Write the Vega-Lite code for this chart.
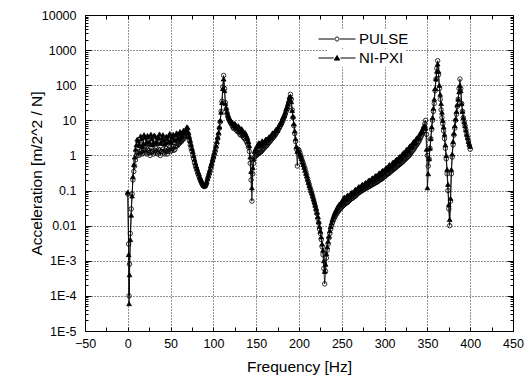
{
  "$schema": "https://vega.github.io/schema/vega-lite/v6.json",
  "width": 428,
  "height": 316,
  "autosize": {"type": "none"},
  "padding": {"left": 85, "top": 15, "right": 16, "bottom": 45},
  "config": {
    "view": {"stroke": "black", "strokeWidth": 1},
    "font": "Liberation Sans",
    "axis": {"labelFont": "Liberation Sans", "titleFont": "Liberation Sans", "labelColor": "black", "titleColor": "black", "titleFontWeight": "normal", "tickColor": "black", "domain": false, "labelFlush": false, "labelOverlap": false},
    "legend": {"labelFont": "Liberation Sans", "labelFontSize": 15, "labelColor": "black", "symbolStrokeColor": "black", "symbolStrokeWidth": 1}
  },
  "data": {"values": [
    {"f": 0, "PULSE": 0.08, "NI-PXI": 0.09},
    {"f": 1, "PULSE": 0.003, "NI-PXI": 0.0015},
    {"f": 1.5, "PULSE": 0.0001, "NI-PXI": 0.00006},
    {"f": 2, "PULSE": 0.0008, "NI-PXI": 0.0004},
    {"f": 3, "PULSE": 0.006, "NI-PXI": 0.004},
    {"f": 4, "PULSE": 0.03, "NI-PXI": 0.02},
    {"f": 5, "PULSE": 0.08, "NI-PXI": 0.07},
    {"f": 6, "PULSE": 0.2, "NI-PXI": 0.25},
    {"f": 7, "PULSE": 0.35, "NI-PXI": 0.55},
    {"f": 8, "PULSE": 0.5, "NI-PXI": 0.9},
    {"f": 9, "PULSE": 0.75, "NI-PXI": 1.5},
    {"f": 10, "PULSE": 1.0, "NI-PXI": 2.0},
    {"f": 11, "PULSE": 1.2, "NI-PXI": 2.9},
    {"f": 12, "PULSE": 1.3, "NI-PXI": 2.6},
    {"f": 13, "PULSE": 1.0, "NI-PXI": 2.0},
    {"f": 14, "PULSE": 1.1, "NI-PXI": 1.9},
    {"f": 15, "PULSE": 1.3, "NI-PXI": 3.6},
    {"f": 16, "PULSE": 1.4, "NI-PXI": 3.0},
    {"f": 17, "PULSE": 1.1, "NI-PXI": 1.8},
    {"f": 18, "PULSE": 1.2, "NI-PXI": 2.2},
    {"f": 19, "PULSE": 1.4, "NI-PXI": 3.9},
    {"f": 20, "PULSE": 1.5, "NI-PXI": 3.3},
    {"f": 21, "PULSE": 1.2, "NI-PXI": 2.1},
    {"f": 22, "PULSE": 1.1, "NI-PXI": 2.5},
    {"f": 23, "PULSE": 1.5, "NI-PXI": 3.7},
    {"f": 24, "PULSE": 1.4, "NI-PXI": 3.4},
    {"f": 25, "PULSE": 1.2, "NI-PXI": 2.4},
    {"f": 26, "PULSE": 1.0, "NI-PXI": 2.1},
    {"f": 27, "PULSE": 1.6, "NI-PXI": 4.0},
    {"f": 28, "PULSE": 1.3, "NI-PXI": 3.0},
    {"f": 29, "PULSE": 1.3, "NI-PXI": 2.0},
    {"f": 30, "PULSE": 1.1, "NI-PXI": 2.4},
    {"f": 31, "PULSE": 1.2, "NI-PXI": 3.8},
    {"f": 32, "PULSE": 1.4, "NI-PXI": 3.5},
    {"f": 33, "PULSE": 1.6, "NI-PXI": 2.2},
    {"f": 34, "PULSE": 1.2, "NI-PXI": 2.5},
    {"f": 35, "PULSE": 1.1, "NI-PXI": 3.3},
    {"f": 36, "PULSE": 1.5, "NI-PXI": 3.1},
    {"f": 37, "PULSE": 1.4, "NI-PXI": 4.1},
    {"f": 38, "PULSE": 1.0, "NI-PXI": 2.2},
    {"f": 39, "PULSE": 1.3, "NI-PXI": 2.3},
    {"f": 40, "PULSE": 1.3, "NI-PXI": 3.2},
    {"f": 41, "PULSE": 1.5, "NI-PXI": 3.9},
    {"f": 42, "PULSE": 1.2, "NI-PXI": 2.7},
    {"f": 43, "PULSE": 1.1, "NI-PXI": 2.1},
    {"f": 44, "PULSE": 1.4, "NI-PXI": 2.3},
    {"f": 45, "PULSE": 1.6, "NI-PXI": 3.5},
    {"f": 46, "PULSE": 1.1, "NI-PXI": 3.0},
    {"f": 47, "PULSE": 1.3, "NI-PXI": 2.4},
    {"f": 48, "PULSE": 1.5, "NI-PXI": 3.6},
    {"f": 49, "PULSE": 1.7, "NI-PXI": 4.2},
    {"f": 50, "PULSE": 1.3, "NI-PXI": 2.6},
    {"f": 51, "PULSE": 1.4, "NI-PXI": 2.3},
    {"f": 52, "PULSE": 1.6, "NI-PXI": 3.3},
    {"f": 53, "PULSE": 1.8, "NI-PXI": 4.0},
    {"f": 54, "PULSE": 1.4, "NI-PXI": 2.8},
    {"f": 55, "PULSE": 1.5, "NI-PXI": 2.7},
    {"f": 56, "PULSE": 1.8, "NI-PXI": 3.8},
    {"f": 57, "PULSE": 2.0, "NI-PXI": 4.4},
    {"f": 58, "PULSE": 1.9, "NI-PXI": 3.0},
    {"f": 59, "PULSE": 2.1, "NI-PXI": 3.0},
    {"f": 60, "PULSE": 2.2, "NI-PXI": 4.2},
    {"f": 61, "PULSE": 2.5, "NI-PXI": 4.8},
    {"f": 62, "PULSE": 2.4, "NI-PXI": 3.6},
    {"f": 63, "PULSE": 2.6, "NI-PXI": 3.5},
    {"f": 64, "PULSE": 2.8, "NI-PXI": 4.6},
    {"f": 65, "PULSE": 3.0, "NI-PXI": 5.2},
    {"f": 66, "PULSE": 3.1, "NI-PXI": 4.3},
    {"f": 67, "PULSE": 3.4, "NI-PXI": 4.6},
    {"f": 68, "PULSE": 3.6, "NI-PXI": 5.5},
    {"f": 69, "PULSE": 4.0, "NI-PXI": 6.5},
    {"f": 70, "PULSE": 4.2, "NI-PXI": 6.2},
    {"f": 71, "PULSE": 3.4, "NI-PXI": 4.5},
    {"f": 72, "PULSE": 2.6, "NI-PXI": 3.4},
    {"f": 73, "PULSE": 2.0, "NI-PXI": 2.7},
    {"f": 74, "PULSE": 1.6, "NI-PXI": 2.1},
    {"f": 75, "PULSE": 1.3, "NI-PXI": 1.6},
    {"f": 76, "PULSE": 1.0, "NI-PXI": 1.3},
    {"f": 77, "PULSE": 0.8, "NI-PXI": 1.0},
    {"f": 78, "PULSE": 0.62, "NI-PXI": 0.78},
    {"f": 79, "PULSE": 0.5, "NI-PXI": 0.62},
    {"f": 80, "PULSE": 0.42, "NI-PXI": 0.5},
    {"f": 81, "PULSE": 0.36, "NI-PXI": 0.42},
    {"f": 82, "PULSE": 0.3, "NI-PXI": 0.35},
    {"f": 83, "PULSE": 0.26, "NI-PXI": 0.3},
    {"f": 84, "PULSE": 0.22, "NI-PXI": 0.25},
    {"f": 85, "PULSE": 0.19, "NI-PXI": 0.22},
    {"f": 86, "PULSE": 0.17, "NI-PXI": 0.19},
    {"f": 87, "PULSE": 0.15, "NI-PXI": 0.17},
    {"f": 88, "PULSE": 0.14, "NI-PXI": 0.15},
    {"f": 89, "PULSE": 0.13, "NI-PXI": 0.14},
    {"f": 90, "PULSE": 0.13, "NI-PXI": 0.14},
    {"f": 91, "PULSE": 0.14, "NI-PXI": 0.16},
    {"f": 92, "PULSE": 0.16, "NI-PXI": 0.18},
    {"f": 93, "PULSE": 0.2, "NI-PXI": 0.22},
    {"f": 94, "PULSE": 0.24, "NI-PXI": 0.27},
    {"f": 95, "PULSE": 0.29, "NI-PXI": 0.33},
    {"f": 96, "PULSE": 0.35, "NI-PXI": 0.4},
    {"f": 97, "PULSE": 0.45, "NI-PXI": 0.5},
    {"f": 98, "PULSE": 0.55, "NI-PXI": 0.6},
    {"f": 99, "PULSE": 0.7, "NI-PXI": 0.75},
    {"f": 100, "PULSE": 0.85, "NI-PXI": 0.95},
    {"f": 101, "PULSE": 1.05, "NI-PXI": 1.2},
    {"f": 102, "PULSE": 1.3, "NI-PXI": 1.5},
    {"f": 103, "PULSE": 1.7, "NI-PXI": 1.9},
    {"f": 104, "PULSE": 2.2, "NI-PXI": 2.5},
    {"f": 105, "PULSE": 3.0, "NI-PXI": 3.3},
    {"f": 106, "PULSE": 4.0, "NI-PXI": 4.5},
    {"f": 107, "PULSE": 6, "NI-PXI": 6.5},
    {"f": 108, "PULSE": 9, "NI-PXI": 10},
    {"f": 109, "PULSE": 18, "NI-PXI": 17},
    {"f": 110, "PULSE": 35, "NI-PXI": 32},
    {"f": 111, "PULSE": 90, "NI-PXI": 80},
    {"f": 112, "PULSE": 190, "NI-PXI": 150},
    {"f": 113, "PULSE": 80, "NI-PXI": 70},
    {"f": 114, "PULSE": 32, "NI-PXI": 30},
    {"f": 115, "PULSE": 21, "NI-PXI": 22},
    {"f": 116, "PULSE": 16, "NI-PXI": 17},
    {"f": 117, "PULSE": 13, "NI-PXI": 14},
    {"f": 118, "PULSE": 11, "NI-PXI": 12},
    {"f": 119, "PULSE": 9.5, "NI-PXI": 11},
    {"f": 120, "PULSE": 8.5, "NI-PXI": 10},
    {"f": 121, "PULSE": 8, "NI-PXI": 9.5},
    {"f": 122, "PULSE": 7, "NI-PXI": 8.5},
    {"f": 123, "PULSE": 6.2, "NI-PXI": 8},
    {"f": 124, "PULSE": 5.8, "NI-PXI": 7},
    {"f": 125, "PULSE": 6.5, "NI-PXI": 8.2},
    {"f": 126, "PULSE": 6, "NI-PXI": 7.5},
    {"f": 127, "PULSE": 5.2, "NI-PXI": 6.5},
    {"f": 128, "PULSE": 4.8, "NI-PXI": 6},
    {"f": 129, "PULSE": 5.0, "NI-PXI": 7},
    {"f": 130, "PULSE": 4.6, "NI-PXI": 6.4},
    {"f": 131, "PULSE": 4.0, "NI-PXI": 5.5},
    {"f": 132, "PULSE": 3.8, "NI-PXI": 4.8},
    {"f": 133, "PULSE": 4.2, "NI-PXI": 5.8},
    {"f": 134, "PULSE": 3.7, "NI-PXI": 5.2},
    {"f": 135, "PULSE": 3.3, "NI-PXI": 4.6},
    {"f": 136, "PULSE": 3.1, "NI-PXI": 4.2},
    {"f": 137, "PULSE": 3.0, "NI-PXI": 4.5},
    {"f": 138, "PULSE": 2.7, "NI-PXI": 4.0},
    {"f": 139, "PULSE": 2.4, "NI-PXI": 3.5},
    {"f": 140, "PULSE": 2.1, "NI-PXI": 3.1},
    {"f": 141, "PULSE": 1.7, "NI-PXI": 2.5},
    {"f": 142, "PULSE": 1.3, "NI-PXI": 1.9},
    {"f": 143, "PULSE": 0.6, "NI-PXI": 0.9},
    {"f": 144, "PULSE": 0.2, "NI-PXI": 0.35},
    {"f": 145, "PULSE": 0.05, "NI-PXI": 0.12},
    {"f": 146, "PULSE": 0.3, "NI-PXI": 0.45},
    {"f": 147, "PULSE": 0.6, "NI-PXI": 0.8},
    {"f": 148, "PULSE": 0.9, "NI-PXI": 1.3},
    {"f": 149, "PULSE": 0.95, "NI-PXI": 1.5},
    {"f": 150, "PULSE": 1.0, "NI-PXI": 1.6},
    {"f": 151, "PULSE": 1.05, "NI-PXI": 1.9},
    {"f": 152, "PULSE": 1.1, "NI-PXI": 1.8},
    {"f": 153, "PULSE": 1.15, "NI-PXI": 2.3},
    {"f": 154, "PULSE": 1.2, "NI-PXI": 2.2},
    {"f": 155, "PULSE": 1.25, "NI-PXI": 1.9},
    {"f": 156, "PULSE": 1.3, "NI-PXI": 2.0},
    {"f": 157, "PULSE": 1.4, "NI-PXI": 2.6},
    {"f": 158, "PULSE": 1.5, "NI-PXI": 2.4},
    {"f": 159, "PULSE": 1.6, "NI-PXI": 2.3},
    {"f": 160, "PULSE": 1.7, "NI-PXI": 2.5},
    {"f": 161, "PULSE": 1.8, "NI-PXI": 2.9},
    {"f": 162, "PULSE": 1.9, "NI-PXI": 2.9},
    {"f": 163, "PULSE": 2.0, "NI-PXI": 2.7},
    {"f": 164, "PULSE": 2.2, "NI-PXI": 3.0},
    {"f": 165, "PULSE": 2.35, "NI-PXI": 3.4},
    {"f": 166, "PULSE": 2.5, "NI-PXI": 3.4},
    {"f": 167, "PULSE": 2.7, "NI-PXI": 3.2},
    {"f": 168, "PULSE": 2.9, "NI-PXI": 3.8},
    {"f": 169, "PULSE": 3.1, "NI-PXI": 4.4},
    {"f": 170, "PULSE": 3.3, "NI-PXI": 4.3},
    {"f": 171, "PULSE": 3.5, "NI-PXI": 4.0},
    {"f": 172, "PULSE": 3.8, "NI-PXI": 4.8},
    {"f": 173, "PULSE": 4.1, "NI-PXI": 5.5},
    {"f": 174, "PULSE": 4.5, "NI-PXI": 5.6},
    {"f": 175, "PULSE": 5.0, "NI-PXI": 5.2},
    {"f": 176, "PULSE": 5.5, "NI-PXI": 6.5},
    {"f": 177, "PULSE": 6.1, "NI-PXI": 7.6},
    {"f": 178, "PULSE": 6.8, "NI-PXI": 8.0},
    {"f": 179, "PULSE": 7.6, "NI-PXI": 8.5},
    {"f": 180, "PULSE": 8.5, "NI-PXI": 10},
    {"f": 181, "PULSE": 9.6, "NI-PXI": 12},
    {"f": 182, "PULSE": 11, "NI-PXI": 13},
    {"f": 183, "PULSE": 13, "NI-PXI": 14},
    {"f": 184, "PULSE": 15, "NI-PXI": 17},
    {"f": 185, "PULSE": 18, "NI-PXI": 21},
    {"f": 186, "PULSE": 21, "NI-PXI": 24},
    {"f": 187, "PULSE": 26, "NI-PXI": 29},
    {"f": 188, "PULSE": 32, "NI-PXI": 36},
    {"f": 189, "PULSE": 42, "NI-PXI": 45},
    {"f": 190, "PULSE": 55, "NI-PXI": 48},
    {"f": 191, "PULSE": 40, "NI-PXI": 34},
    {"f": 192, "PULSE": 20, "NI-PXI": 19},
    {"f": 193, "PULSE": 12, "NI-PXI": 13},
    {"f": 194, "PULSE": 7, "NI-PXI": 8},
    {"f": 195, "PULSE": 4.2, "NI-PXI": 5},
    {"f": 196, "PULSE": 2.5, "NI-PXI": 3},
    {"f": 197, "PULSE": 1.5, "NI-PXI": 1.8},
    {"f": 198, "PULSE": 0.5, "NI-PXI": 1.3},
    {"f": 199, "PULSE": 1.5, "NI-PXI": 1.4},
    {"f": 200, "PULSE": 1.4, "NI-PXI": 1.3},
    {"f": 201, "PULSE": 1.2, "NI-PXI": 1.1},
    {"f": 202, "PULSE": 1.0, "NI-PXI": 0.95},
    {"f": 203, "PULSE": 0.85, "NI-PXI": 0.8},
    {"f": 204, "PULSE": 0.7, "NI-PXI": 0.65},
    {"f": 205, "PULSE": 0.6, "NI-PXI": 0.55},
    {"f": 206, "PULSE": 0.5, "NI-PXI": 0.46},
    {"f": 207, "PULSE": 0.42, "NI-PXI": 0.38},
    {"f": 208, "PULSE": 0.34, "NI-PXI": 0.31},
    {"f": 209, "PULSE": 0.28, "NI-PXI": 0.26},
    {"f": 210, "PULSE": 0.22, "NI-PXI": 0.21},
    {"f": 211, "PULSE": 0.18, "NI-PXI": 0.17},
    {"f": 212, "PULSE": 0.15, "NI-PXI": 0.14},
    {"f": 213, "PULSE": 0.12, "NI-PXI": 0.12},
    {"f": 214, "PULSE": 0.1, "NI-PXI": 0.1},
    {"f": 215, "PULSE": 0.082, "NI-PXI": 0.085},
    {"f": 216, "PULSE": 0.068, "NI-PXI": 0.07},
    {"f": 217, "PULSE": 0.055, "NI-PXI": 0.058},
    {"f": 218, "PULSE": 0.045, "NI-PXI": 0.047},
    {"f": 219, "PULSE": 0.036, "NI-PXI": 0.038},
    {"f": 220, "PULSE": 0.028, "NI-PXI": 0.031},
    {"f": 221, "PULSE": 0.022, "NI-PXI": 0.024},
    {"f": 222, "PULSE": 0.016, "NI-PXI": 0.018},
    {"f": 223, "PULSE": 0.012, "NI-PXI": 0.013},
    {"f": 224, "PULSE": 0.008, "NI-PXI": 0.0095},
    {"f": 225, "PULSE": 0.006, "NI-PXI": 0.007},
    {"f": 226, "PULSE": 0.004, "NI-PXI": 0.0048},
    {"f": 227, "PULSE": 0.0025, "NI-PXI": 0.003},
    {"f": 228, "PULSE": 0.0015, "NI-PXI": 0.002},
    {"f": 229, "PULSE": 0.0006, "NI-PXI": 0.001},
    {"f": 230, "PULSE": 0.00022, "NI-PXI": 0.0005},
    {"f": 231, "PULSE": 0.0005, "NI-PXI": 0.0008},
    {"f": 232, "PULSE": 0.0012, "NI-PXI": 0.0016},
    {"f": 233, "PULSE": 0.002, "NI-PXI": 0.0025},
    {"f": 234, "PULSE": 0.003, "NI-PXI": 0.0036},
    {"f": 235, "PULSE": 0.0045, "NI-PXI": 0.005},
    {"f": 236, "PULSE": 0.006, "NI-PXI": 0.0072},
    {"f": 237, "PULSE": 0.008, "NI-PXI": 0.0095},
    {"f": 238, "PULSE": 0.01, "NI-PXI": 0.012},
    {"f": 239, "PULSE": 0.012, "NI-PXI": 0.015},
    {"f": 240, "PULSE": 0.014, "NI-PXI": 0.018},
    {"f": 241, "PULSE": 0.016, "NI-PXI": 0.021},
    {"f": 242, "PULSE": 0.018, "NI-PXI": 0.024},
    {"f": 243, "PULSE": 0.02, "NI-PXI": 0.027},
    {"f": 244, "PULSE": 0.022, "NI-PXI": 0.03},
    {"f": 245, "PULSE": 0.024, "NI-PXI": 0.034},
    {"f": 246, "PULSE": 0.026, "NI-PXI": 0.036},
    {"f": 247, "PULSE": 0.028, "NI-PXI": 0.041},
    {"f": 248, "PULSE": 0.03, "NI-PXI": 0.04},
    {"f": 249, "PULSE": 0.032, "NI-PXI": 0.044},
    {"f": 250, "PULSE": 0.034, "NI-PXI": 0.05},
    {"f": 251, "PULSE": 0.036, "NI-PXI": 0.048},
    {"f": 252, "PULSE": 0.038, "NI-PXI": 0.06},
    {"f": 253, "PULSE": 0.04, "NI-PXI": 0.065},
    {"f": 254, "PULSE": 0.042, "NI-PXI": 0.055},
    {"f": 255, "PULSE": 0.044, "NI-PXI": 0.06},
    {"f": 256, "PULSE": 0.045, "NI-PXI": 0.07},
    {"f": 257, "PULSE": 0.047, "NI-PXI": 0.075},
    {"f": 258, "PULSE": 0.05, "NI-PXI": 0.065},
    {"f": 259, "PULSE": 0.053, "NI-PXI": 0.068},
    {"f": 260, "PULSE": 0.056, "NI-PXI": 0.08},
    {"f": 261, "PULSE": 0.058, "NI-PXI": 0.086},
    {"f": 262, "PULSE": 0.06, "NI-PXI": 0.09},
    {"f": 263, "PULSE": 0.062, "NI-PXI": 0.08},
    {"f": 264, "PULSE": 0.066, "NI-PXI": 0.085},
    {"f": 265, "PULSE": 0.068, "NI-PXI": 0.1},
    {"f": 266, "PULSE": 0.07, "NI-PXI": 0.11},
    {"f": 267, "PULSE": 0.075, "NI-PXI": 0.095},
    {"f": 268, "PULSE": 0.08, "NI-PXI": 0.1},
    {"f": 269, "PULSE": 0.084, "NI-PXI": 0.12},
    {"f": 270, "PULSE": 0.088, "NI-PXI": 0.13},
    {"f": 271, "PULSE": 0.09, "NI-PXI": 0.115},
    {"f": 272, "PULSE": 0.095, "NI-PXI": 0.12},
    {"f": 273, "PULSE": 0.098, "NI-PXI": 0.14},
    {"f": 274, "PULSE": 0.1, "NI-PXI": 0.15},
    {"f": 275, "PULSE": 0.105, "NI-PXI": 0.13},
    {"f": 276, "PULSE": 0.11, "NI-PXI": 0.14},
    {"f": 277, "PULSE": 0.112, "NI-PXI": 0.16},
    {"f": 278, "PULSE": 0.115, "NI-PXI": 0.17},
    {"f": 279, "PULSE": 0.12, "NI-PXI": 0.15},
    {"f": 280, "PULSE": 0.125, "NI-PXI": 0.16},
    {"f": 281, "PULSE": 0.128, "NI-PXI": 0.19},
    {"f": 282, "PULSE": 0.13, "NI-PXI": 0.2},
    {"f": 283, "PULSE": 0.135, "NI-PXI": 0.18},
    {"f": 284, "PULSE": 0.14, "NI-PXI": 0.19},
    {"f": 285, "PULSE": 0.145, "NI-PXI": 0.22},
    {"f": 286, "PULSE": 0.15, "NI-PXI": 0.23},
    {"f": 287, "PULSE": 0.155, "NI-PXI": 0.21},
    {"f": 288, "PULSE": 0.16, "NI-PXI": 0.22},
    {"f": 289, "PULSE": 0.165, "NI-PXI": 0.26},
    {"f": 290, "PULSE": 0.17, "NI-PXI": 0.27},
    {"f": 291, "PULSE": 0.175, "NI-PXI": 0.24},
    {"f": 292, "PULSE": 0.18, "NI-PXI": 0.25},
    {"f": 293, "PULSE": 0.19, "NI-PXI": 0.3},
    {"f": 294, "PULSE": 0.2, "NI-PXI": 0.32},
    {"f": 295, "PULSE": 0.205, "NI-PXI": 0.28},
    {"f": 296, "PULSE": 0.21, "NI-PXI": 0.3},
    {"f": 297, "PULSE": 0.22, "NI-PXI": 0.36},
    {"f": 298, "PULSE": 0.23, "NI-PXI": 0.38},
    {"f": 299, "PULSE": 0.24, "NI-PXI": 0.34},
    {"f": 300, "PULSE": 0.25, "NI-PXI": 0.36},
    {"f": 301, "PULSE": 0.26, "NI-PXI": 0.42},
    {"f": 302, "PULSE": 0.28, "NI-PXI": 0.45},
    {"f": 303, "PULSE": 0.29, "NI-PXI": 0.4},
    {"f": 304, "PULSE": 0.3, "NI-PXI": 0.43},
    {"f": 305, "PULSE": 0.31, "NI-PXI": 0.52},
    {"f": 306, "PULSE": 0.33, "NI-PXI": 0.55},
    {"f": 307, "PULSE": 0.345, "NI-PXI": 0.48},
    {"f": 308, "PULSE": 0.36, "NI-PXI": 0.5},
    {"f": 309, "PULSE": 0.38, "NI-PXI": 0.6},
    {"f": 310, "PULSE": 0.4, "NI-PXI": 0.65},
    {"f": 311, "PULSE": 0.41, "NI-PXI": 0.58},
    {"f": 312, "PULSE": 0.43, "NI-PXI": 0.62},
    {"f": 313, "PULSE": 0.45, "NI-PXI": 0.74},
    {"f": 314, "PULSE": 0.48, "NI-PXI": 0.78},
    {"f": 315, "PULSE": 0.5, "NI-PXI": 0.7},
    {"f": 316, "PULSE": 0.52, "NI-PXI": 0.75},
    {"f": 317, "PULSE": 0.55, "NI-PXI": 0.9},
    {"f": 318, "PULSE": 0.57, "NI-PXI": 0.95},
    {"f": 319, "PULSE": 0.6, "NI-PXI": 0.85},
    {"f": 320, "PULSE": 0.63, "NI-PXI": 0.9},
    {"f": 321, "PULSE": 0.66, "NI-PXI": 1.1},
    {"f": 322, "PULSE": 0.7, "NI-PXI": 1.2},
    {"f": 323, "PULSE": 0.74, "NI-PXI": 1.05},
    {"f": 324, "PULSE": 0.78, "NI-PXI": 1.1},
    {"f": 325, "PULSE": 0.82, "NI-PXI": 1.4},
    {"f": 326, "PULSE": 0.87, "NI-PXI": 1.5},
    {"f": 327, "PULSE": 0.92, "NI-PXI": 1.3},
    {"f": 328, "PULSE": 0.97, "NI-PXI": 1.4},
    {"f": 329, "PULSE": 1.03, "NI-PXI": 1.8},
    {"f": 330, "PULSE": 1.1, "NI-PXI": 1.9},
    {"f": 331, "PULSE": 1.2, "NI-PXI": 1.7},
    {"f": 332, "PULSE": 1.3, "NI-PXI": 1.8},
    {"f": 333, "PULSE": 1.4, "NI-PXI": 2.3},
    {"f": 334, "PULSE": 1.5, "NI-PXI": 2.5},
    {"f": 335, "PULSE": 1.65, "NI-PXI": 2.2},
    {"f": 336, "PULSE": 1.8, "NI-PXI": 2.4},
    {"f": 337, "PULSE": 1.95, "NI-PXI": 3.0},
    {"f": 338, "PULSE": 2.1, "NI-PXI": 3.2},
    {"f": 339, "PULSE": 2.3, "NI-PXI": 3.1},
    {"f": 340, "PULSE": 2.5, "NI-PXI": 3.3},
    {"f": 341, "PULSE": 2.8, "NI-PXI": 4.0},
    {"f": 342, "PULSE": 3.2, "NI-PXI": 4.5},
    {"f": 343, "PULSE": 3.6, "NI-PXI": 4.6},
    {"f": 344, "PULSE": 4.2, "NI-PXI": 5},
    {"f": 345, "PULSE": 5, "NI-PXI": 6.2},
    {"f": 346, "PULSE": 6, "NI-PXI": 7},
    {"f": 347, "PULSE": 8, "NI-PXI": 7},
    {"f": 348, "PULSE": 10, "NI-PXI": 6},
    {"f": 349, "PULSE": 4, "NI-PXI": 1.5},
    {"f": 350, "PULSE": 1.0, "NI-PXI": 0.12},
    {"f": 351, "PULSE": 0.5, "NI-PXI": 0.3},
    {"f": 352, "PULSE": 0.8, "NI-PXI": 0.8},
    {"f": 353, "PULSE": 1.6, "NI-PXI": 1.6},
    {"f": 354, "PULSE": 3, "NI-PXI": 3},
    {"f": 355, "PULSE": 5.5, "NI-PXI": 6.5},
    {"f": 356, "PULSE": 10, "NI-PXI": 12},
    {"f": 357, "PULSE": 18, "NI-PXI": 22},
    {"f": 358, "PULSE": 30, "NI-PXI": 40},
    {"f": 359, "PULSE": 70, "NI-PXI": 80},
    {"f": 360, "PULSE": 150, "NI-PXI": 150},
    {"f": 361, "PULSE": 300, "NI-PXI": 250},
    {"f": 362, "PULSE": 500, "NI-PXI": 400},
    {"f": 363, "PULSE": 200, "NI-PXI": 250},
    {"f": 364, "PULSE": 80, "NI-PXI": 100},
    {"f": 365, "PULSE": 40, "NI-PXI": 55},
    {"f": 366, "PULSE": 20, "NI-PXI": 30},
    {"f": 367, "PULSE": 12, "NI-PXI": 17},
    {"f": 368, "PULSE": 8, "NI-PXI": 10},
    {"f": 369, "PULSE": 5, "NI-PXI": 6.5},
    {"f": 370, "PULSE": 3, "NI-PXI": 4},
    {"f": 371, "PULSE": 1.6, "NI-PXI": 2},
    {"f": 372, "PULSE": 0.8, "NI-PXI": 1},
    {"f": 373, "PULSE": 0.3, "NI-PXI": 0.4},
    {"f": 374, "PULSE": 0.1, "NI-PXI": 0.15},
    {"f": 375, "PULSE": 0.03, "NI-PXI": 0.04},
    {"f": 376, "PULSE": 0.01, "NI-PXI": 0.015},
    {"f": 377, "PULSE": 0.05, "NI-PXI": 0.06},
    {"f": 378, "PULSE": 0.3, "NI-PXI": 0.4},
    {"f": 379, "PULSE": 0.9, "NI-PXI": 1.1},
    {"f": 380, "PULSE": 2, "NI-PXI": 2.5},
    {"f": 381, "PULSE": 3.8, "NI-PXI": 4.3},
    {"f": 382, "PULSE": 6, "NI-PXI": 7},
    {"f": 383, "PULSE": 10, "NI-PXI": 11},
    {"f": 384, "PULSE": 15, "NI-PXI": 18},
    {"f": 385, "PULSE": 25, "NI-PXI": 28},
    {"f": 386, "PULSE": 40, "NI-PXI": 40},
    {"f": 387, "PULSE": 80, "NI-PXI": 65},
    {"f": 388, "PULSE": 150, "NI-PXI": 100},
    {"f": 389, "PULSE": 80, "NI-PXI": 70},
    {"f": 390, "PULSE": 30, "NI-PXI": 30},
    {"f": 391, "PULSE": 18, "NI-PXI": 18},
    {"f": 392, "PULSE": 12, "NI-PXI": 12},
    {"f": 393, "PULSE": 9, "NI-PXI": 9},
    {"f": 394, "PULSE": 7, "NI-PXI": 7},
    {"f": 395, "PULSE": 5.3, "NI-PXI": 5.3},
    {"f": 396, "PULSE": 4, "NI-PXI": 4},
    {"f": 397, "PULSE": 3.2, "NI-PXI": 3.2},
    {"f": 398, "PULSE": 2.5, "NI-PXI": 2.5},
    {"f": 399, "PULSE": 1.9, "NI-PXI": 2.1},
    {"f": 400, "PULSE": 1.5, "NI-PXI": 1.8}
  ]},
  "transform": [{"fold": ["PULSE", "NI-PXI"], "as": ["series", "acc"]}],
  "layer": [
    {
      "mark": {"type": "line", "color": "black", "strokeWidth": 0.8},
      "encoding": {
        "detail": {"field": "series"},
        "x": {"field": "f", "type": "quantitative", "scale": {"domain": [-50, 450], "nice": false},
          "axis": {"orient": "bottom", "title": "Frequency [Hz]", "titleFontSize": 15.5, "titlePadding": 10,
            "values": [-50, -25, 0, 25, 50, 75, 100, 125, 150, 175, 200, 225, 250, 275, 300, 325, 350, 375, 400, 425, 450],
            "labelExpr": "datum.value % 50 === 0 ? format(datum.value, 'd') : ''",
            "labelFontSize": 12.5, "tickSize": -4, "labelPadding": 10,
            "grid": true, "gridColor": "#222", "gridDash": [1, 2], "gridWidth": 1,
            "gridOpacity": {"condition": {"test": "datum.value % 50 === 0 && datum.value > -50 && datum.value < 450", "value": 1}, "value": 0}}},
        "y": {"field": "acc", "type": "quantitative", "scale": {"type": "log", "domain": [0.00001, 10000], "nice": false},
          "axis": {"orient": "left", "title": "Acceleration [m/2^2 / N]", "titleFontSize": 15.5, "titlePadding": -3,
            "values": [0.00001, 0.00002, 0.00003, 0.00004, 0.00005, 0.00006, 0.00007, 0.00008, 0.00009,
              0.0001, 0.0002, 0.0003, 0.0004, 0.0005, 0.0006, 0.0007, 0.0008, 0.0009,
              0.001, 0.002, 0.003, 0.004, 0.005, 0.006, 0.007, 0.008, 0.009,
              0.01, 0.02, 0.03, 0.04, 0.05, 0.06, 0.07, 0.08, 0.09,
              0.1, 0.2, 0.3, 0.4, 0.5, 0.6, 0.7, 0.8, 0.9,
              1, 2, 3, 4, 5, 6, 7, 8, 9,
              10, 20, 30, 40, 50, 60, 70, 80, 90,
              100, 200, 300, 400, 500, 600, 700, 800, 900,
              1000, 2000, 3000, 4000, 5000, 6000, 7000, 8000, 9000, 10000],
            "labelExpr": "abs(log(datum.value)/LN10 - round(log(datum.value)/LN10)) < 0.001 ? (datum.value < 0.005 ? '1E' + round(log(datum.value)/LN10) : format(datum.value, '~g')) : ''",
            "labelFontSize": 12.5, "labelPadding": 15,
            "tickSize": {"condition": {"test": "abs(log(datum.value)/LN10 - round(log(datum.value)/LN10)) < 0.001", "value": -6}, "value": -3},
            "grid": true, "gridColor": "#222", "gridDash": [1, 2], "gridWidth": 1,
            "gridOpacity": {"condition": {"test": "abs(log(datum.value)/LN10 - round(log(datum.value)/LN10)) < 0.001 && datum.value > 0.00002 && datum.value < 9999", "value": 1}, "value": 0}}}
      }
    },
    {
      "transform": [{"filter": "datum.series === 'PULSE'"}],
      "mark": {"type": "point", "filled": false, "strokeWidth": 0.8, "size": 20, "opacity": 1},
      "encoding": {
        "x": {"field": "f", "type": "quantitative", "scale": {"domain": [-50, 450], "nice": false},
          "axis": {"orient": "top", "title": null, "labels": false, "grid": false, "tickSize": -4,
            "values": [-50, -25, 0, 25, 50, 75, 100, 125, 150, 175, 200, 225, 250, 275, 300, 325, 350, 375, 400, 425, 450]}},
        "y": {"field": "acc", "type": "quantitative", "scale": {"type": "log", "domain": [0.00001, 10000], "nice": false},
          "axis": {"orient": "right", "title": null, "labels": false, "grid": false,
            "values": [0.00001, 0.00002, 0.00003, 0.00004, 0.00005, 0.00006, 0.00007, 0.00008, 0.00009,
              0.0001, 0.0002, 0.0003, 0.0004, 0.0005, 0.0006, 0.0007, 0.0008, 0.0009,
              0.001, 0.002, 0.003, 0.004, 0.005, 0.006, 0.007, 0.008, 0.009,
              0.01, 0.02, 0.03, 0.04, 0.05, 0.06, 0.07, 0.08, 0.09,
              0.1, 0.2, 0.3, 0.4, 0.5, 0.6, 0.7, 0.8, 0.9,
              1, 2, 3, 4, 5, 6, 7, 8, 9,
              10, 20, 30, 40, 50, 60, 70, 80, 90,
              100, 200, 300, 400, 500, 600, 700, 800, 900,
              1000, 2000, 3000, 4000, 5000, 6000, 7000, 8000, 9000, 10000],
            "tickSize": {"condition": {"test": "abs(log(datum.value)/LN10 - round(log(datum.value)/LN10)) < 0.001", "value": -6}, "value": -3}}},
        "stroke": {"datum": "PULSE", "type": "nominal", "scale": {"domain": ["PULSE"], "range": ["black"]},
          "legend": {"title": null, "orient": "none", "legendX": 243, "legendY": 15, "padding": 1, "fillColor": "white",
            "labelOffset": 14, "symbolSize": 225, "symbolStrokeWidth": 1,
            "symbolType": "M-2.47,0H-0.4M0.4,0H2.47M0.27,0A0.27,0.27,0,1,1,-0.27,0A0.27,0.27,0,1,1,0.27,0Z"}}
      }
    },
    {
      "transform": [{"filter": "datum.series === 'NI-PXI'"}],
      "mark": {"type": "point", "filled": true, "stroke": "black", "strokeWidth": 0.8, "size": 22, "opacity": 1},
      "encoding": {
        "x": {"field": "f", "type": "quantitative", "scale": {"domain": [-50, 450], "nice": false}, "axis": null},
        "y": {"field": "acc", "type": "quantitative", "scale": {"type": "log", "domain": [0.00001, 10000], "nice": false}, "axis": null},
        "shape": {"field": "series", "type": "nominal", "scale": {"domain": ["NI-PXI", "zz"], "range": ["triangle-up", "circle"]}, "legend": null},
        "fill": {"datum": "NI-PXI", "type": "nominal", "scale": {"domain": ["NI-PXI"], "range": ["black"]},
          "legend": {"title": null, "orient": "none", "legendX": 243, "legendY": 34, "padding": 1, "fillColor": "white",
            "labelOffset": 14, "symbolSize": 225, "symbolStrokeColor": "black", "symbolStrokeWidth": 1,
            "symbolType": "M-2.47,0H-0.45M0.45,0H2.47M0,-0.33L0.36,0.28L-0.36,0.28Z"}}
      }
    }
  ],
  "resolve": {"axis": {"x": "independent", "y": "independent"}}
}
